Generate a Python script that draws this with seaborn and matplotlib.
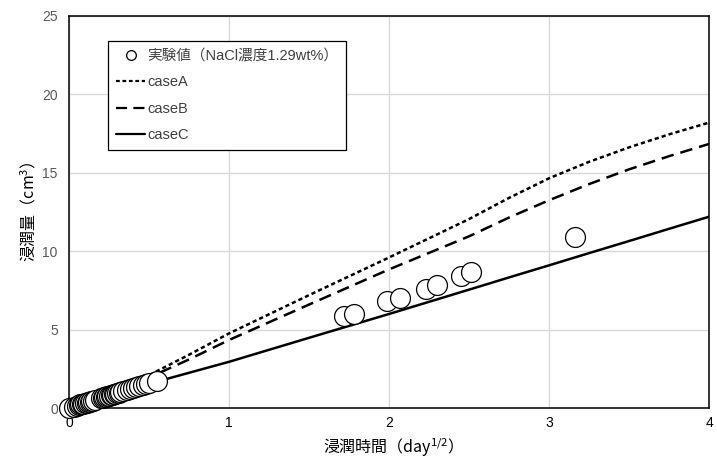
import numpy as np
import pandas as pd
import matplotlib
matplotlib.use("Agg")
import matplotlib.pyplot as plt
from matplotlib.lines import Line2D
import seaborn as sns

# Measured infiltration (sqrt of time vs. infiltrated volume)
exp_t = [0.00, 0.03, 0.05, 0.06, 0.07, 0.08, 0.09, 0.10, 0.11, 0.12, 0.13,
         0.14, 0.15, 0.16, 0.20, 0.21, 0.22, 0.23, 0.24, 0.25, 0.26, 0.27,
         0.28, 0.29, 0.30, 0.31, 0.32, 0.34, 0.36, 0.38, 0.40, 0.42, 0.44,
         0.46, 0.48, 0.50, 0.55,
         1.72, 1.78, 1.99, 2.07, 2.23, 2.30, 2.45, 2.51, 3.16]
exp_v = [0.00, 0.10, 0.16, 0.20, 0.23, 0.26, 0.29, 0.32, 0.35, 0.38, 0.42,
         0.45, 0.48, 0.51, 0.64, 0.67, 0.70, 0.73, 0.77, 0.80, 0.83, 0.86,
         0.90, 0.93, 0.96, 0.99, 1.02, 1.09, 1.15, 1.22, 1.28, 1.34, 1.41,
         1.47, 1.54, 1.60, 1.75,
         5.85, 6.00, 6.85, 7.05, 7.60, 7.85, 8.40, 8.65, 10.90]

# Simulated curves
calc_t = [0.0, 0.25, 0.5, 0.75, 1.0, 1.5, 2.0, 2.5, 2.75, 3.0, 3.25, 3.5, 3.75, 4.0]
caseA = [0.0, 1.00, 2.10, 3.40, 4.76, 7.20, 9.60, 12.05, 13.40, 14.65, 15.70, 16.62, 17.45, 18.20]
caseB = [0.0, 0.95, 1.95, 3.10, 4.34, 6.60, 8.84, 10.95, 12.15, 13.25, 14.28, 15.22, 16.06, 16.84]
caseC = [0.0, 0.78, 1.55, 2.25, 2.95, 4.48, 6.00, 7.55, 8.33, 9.10, 9.88, 10.65, 11.43, 12.20]

exp_label = "実験値（NaCl濃度1.29wt%）"
case_names = ["caseA", "caseB", "caseC"]
x_ticks = [0, 1, 2, 3, 4]
y_ticks = [0, 5, 10, 15, 20, 25]

sns.set_theme(style="whitegrid")
plt.rcParams["font.family"] = ["Liberation Sans", "Noto Sans CJK JP", "DejaVu Sans"]
plt.rcParams["mathtext.default"] = "regular"

fig = plt.figure(figsize=(7.17, 4.68), dpi=100)
ax = fig.add_axes([0.0962, 0.128, 0.8928, 0.838])

calc_df = pd.DataFrame({
    "t": calc_t * 3,
    "v": caseA + caseB + caseC,
    "case": sum([[n] * len(calc_t) for n in case_names], []),
})
styles = {
    "caseA": (0, (1.7, 1.2)),
    "caseB": (0, (5.0, 2.8)),
    "caseC": "-",
}
for name in case_names:
    sub = calc_df[calc_df["case"] == name]
    sns.lineplot(data=sub, x="t", y="v", ax=ax, color="black",
                 linewidth=1.8, linestyle=styles[name], zorder=2,
                 legend=False)

exp_df = pd.DataFrame({"t": exp_t, "v": exp_v})
sns.scatterplot(data=exp_df, x="t", y="v", ax=ax, s=205, marker="o",
                facecolor="white", edgecolor="black", linewidth=0.9,
                zorder=3, legend=False, clip_on=False)

ax.set_xlim(0, 4)
ax.set_ylim(0, 25)
ax.set_xticks(x_ticks)
ax.set_yticks(y_ticks)
ax.tick_params(axis="both", length=0, labelsize=10)
ax.tick_params(axis="x", colors="black", pad=6)
ax.tick_params(axis="y", colors="#595959", pad=8)
ax.grid(True, color="#d9d9d9", linewidth=1.0)
for sp in ax.spines.values():
    sp.set_visible(True)
    sp.set_color("black")
    sp.set_linewidth(1.1)

label_font = "Noto Sans CJK JP"
ax.set_xlabel("浸潤時間（day$^{1/2}$）", fontsize=11.5, color="black",
              labelpad=4, family=label_font)
ax.set_ylabel("浸潤量（cm$^{3}$）", fontsize=11.5, color="black",
              labelpad=3, family=label_font)

handles = [
    Line2D([], [], linestyle="none", marker="o", markersize=7,
           markerfacecolor="white", markeredgecolor="black", markeredgewidth=0.9),
    Line2D([], [], color="black", linewidth=1.6, linestyle=styles["caseA"]),
    Line2D([], [], color="black", linewidth=1.6, linestyle=styles["caseB"]),
    Line2D([], [], color="black", linewidth=1.6, linestyle=styles["caseC"]),
]
leg = ax.legend(handles, [exp_label] + case_names, loc="upper left",
                bbox_to_anchor=(0.061, 0.936), fontsize=10.5, frameon=True,
                fancybox=False, edgecolor="black", framealpha=1,
                handlelength=2.0, handletextpad=0.15, labelspacing=0.85,
                borderpad=0.55, borderaxespad=0)
leg.get_frame().set_linewidth(0.9)
for t in leg.get_texts():
    t.set_color("#404040")

fig.savefig("out.png", dpi=100)
